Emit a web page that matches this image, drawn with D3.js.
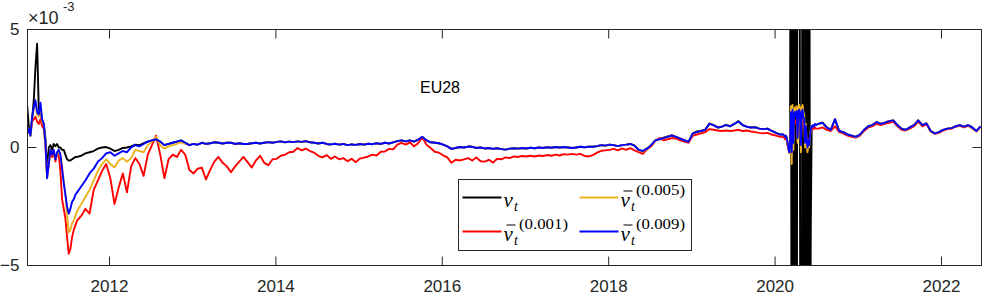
<!DOCTYPE html>
<html>
<head>
<meta charset="utf-8">
<script src="https://cdn.jsdelivr.net/npm/d3@7"></script>
<style>
  body { margin: 0; background: #ffffff; }
  svg { display: block; }
</style>
</head>
<body>
<svg id="chart" width="1000" height="300"></svg>
<script>
// ---------- DATA (values in units of 1e-3) ----------
// time grid (decimal years): denser at the 2011 start and around the 2020 turbulence
const dates = [
  ...d3.range(30).map(i => 2011.01 + 0.02 * i),
  ...d3.range(170).map(i => 2011.61 + 0.05 * i),
  ...d3.range(40).map(i => 2020.10 + 0.01 * i),
  ...d3.range(40).map(i => 2020.52 + 0.05 * i)
];

const xTickLabels = [2012, 2014, 2016, 2018, 2020, 2022];
const yTickLabels = [-5, 0, 5];
const titleText = "EU28";

// nu_t (black)
const nuT = [
  1.8,0.9,0.7,1.2,2.0,3.4,4.4,1.6,1.6,1.1,
  1.0,0.4,-1.0,0.0,0.1,-0.1,0.15,0.05,0.15,0.0,
  0.0,-0.1,-0.1,-0.3,-0.5,-0.55,-0.55,-0.5,-0.45,-0.4,
  // 2011.61 ...
  -0.4,-0.35,-0.25,-0.2,-0.15,-0.05,0.0,0.02,-0.05,-0.15,
  -0.1,-0.02,0.0,0.05,0.12,0.1,0.18,0.25,0.3,0.35,
  0.25,0.1,0.15,0.2,0.25,0.3,0.2,0.1,0.15,0.12,
  0.2,0.15,0.18,0.22,0.2,0.17,0.2,0.2,0.15,0.18,
  0.15,0.15,0.18,0.2,0.17,0.2,0.23,0.2,0.24,0.26,
  0.22,0.25,0.23,0.26,0.24,0.27,0.22,0.2,0.17,0.2,
  0.15,0.13,0.16,0.12,0.15,0.1,0.13,0.11,0.15,0.12,
  0.16,0.14,0.18,0.15,0.2,0.17,0.22,0.27,0.3,0.26,
  0.3,0.25,0.33,0.45,0.3,0.22,0.2,0.18,0.12,0.05,
  -0.06,-0.02,0.02,0.0,0.04,0.03,-0.02,0.0,-0.04,-0.02,
  -0.06,-0.03,-0.07,-0.09,-0.05,-0.03,-0.05,-0.02,-0.04,-0.01,
  -0.03,0.0,-0.02,0.01,-0.01,0.02,0.0,0.02,0.0,-0.02,
  0.0,0.03,0.01,0.03,0.03,0.06,0.1,0.08,0.12,0.1,
  0.06,0.1,0.12,0.15,0.08,-0.1,-0.15,-0.05,0.1,0.3,
  0.35,0.42,0.47,0.52,0.45,0.38,0.3,0.24,0.6,0.68,
  0.7,0.75,1.02,0.95,0.85,0.88,0.97,0.9,1.0,1.12,
  0.95,0.88,0.85,0.87,0.8,0.78,0.8,0.7,0.62,0.55,
  // 2020.10 ... (dense)
  0.55,0.5,0.45,0.5,0.4,0.2,0.0,-0.2,0.1,20,
  -25,30,-20,25,-30,15,-20,25,30,25,
  -2,-30,-25,30,-20,25,-30,20,-25,22,
  -20,18,-10,-3,0.9,0.85,0.95,0.9,1.0,0.95,
  // 2020.52 ...
  1.0,1.05,0.85,0.75,1.2,0.7,0.65,0.55,0.5,0.45,
  0.55,0.75,0.9,0.95,1.08,1.0,1.05,1.12,1.15,0.95,
  0.8,0.75,0.85,0.95,1.15,0.95,1.02,0.7,0.6,0.65,
  0.75,0.8,0.82,0.9,0.95,0.88,0.95,0.85,0.7,0.9
];

// nu-bar_t^(0.001) (red)
const nuBar001 = [
  0.6,0.7,0.5,1.1,1.2,1.3,1.1,1.0,1.2,0.9,
  0.8,0.1,-1.2,-0.7,-0.2,-0.4,-0.2,-0.6,-0.3,-0.3,
  -1.0,-2.2,-2.6,-3.0,-3.8,-4.5,-4.3,-3.8,-3.5,-3.3,
  -3.1,-2.9,-2.6,-2.8,-1.8,-1.4,-1.0,-0.7,-1.3,-2.4,
  -1.7,-1.1,-1.9,-0.8,-0.45,-0.7,-1.2,-0.3,0.1,0.5,
  -0.3,-1.3,-0.5,-0.3,-0.4,-0.1,-0.3,-0.95,-1.1,-0.9,
  -0.85,-1.35,-0.95,-0.6,-0.4,-0.65,-0.8,-1.05,-0.8,-0.6,
  -0.4,-0.62,-0.85,-0.55,-0.35,-0.65,-0.75,-0.5,-0.48,-0.35,
  -0.3,-0.2,-0.18,-0.02,-0.12,-0.05,-0.15,-0.22,-0.35,-0.42,
  -0.32,-0.48,-0.38,-0.5,-0.45,-0.58,-0.48,-0.62,-0.47,-0.43,
  -0.38,-0.3,-0.34,-0.18,-0.17,-0.06,-0.08,0.12,0.2,0.12,
  0.22,0.05,0.18,0.43,0.12,-0.02,-0.18,-0.22,-0.33,-0.42,
  -0.65,-0.52,-0.55,-0.5,-0.45,-0.55,-0.42,-0.58,-0.6,-0.52,
  -0.64,-0.48,-0.5,-0.42,-0.45,-0.38,-0.4,-0.36,-0.38,-0.35,
  -0.38,-0.34,-0.36,-0.32,-0.35,-0.3,-0.34,-0.28,-0.3,-0.27,
  -0.3,-0.27,-0.36,-0.38,-0.32,-0.22,-0.14,-0.12,-0.1,-0.06,
  -0.12,-0.04,-0.1,-0.03,-0.12,-0.2,-0.27,-0.08,0.05,0.28,
  0.4,0.3,0.35,0.4,0.38,0.3,0.25,0.2,0.5,0.55,
  0.6,0.65,0.78,0.75,0.72,0.7,0.72,0.7,0.72,0.75,
  0.7,0.72,0.68,0.65,0.62,0.6,0.62,0.55,0.5,0.45,
  0.45,0.4,0.35,0.4,0.3,0.1,-0.1,-0.15,0.1,1.1,
  0.1,1.2,0.3,1.1,1.15,1.0,1.2,0.5,1.15,1.2,
  1.1,0.3,1.1,1.2,1.0,0.9,0.3,0.7,0.35,0.1,
  0.35,0.2,0.5,0.7,0.8,0.75,0.85,0.8,0.85,0.8,
  0.8,0.85,0.75,0.7,0.9,0.65,0.6,0.5,0.45,0.42,
  0.5,0.7,0.85,0.9,1.0,0.95,1.0,1.05,1.1,0.9,
  0.75,0.72,0.8,0.9,1.1,0.9,0.98,0.68,0.58,0.62,
  0.72,0.78,0.8,0.88,0.92,0.85,0.92,0.82,0.68,0.88
];

// nu-bar_t^(0.005) (yellow)
const nuBar005 = [
  0.6,0.8,0.5,1.3,1.6,1.9,1.4,1.3,1.8,1.1,
  0.95,0.15,-1.3,-0.7,-0.1,-0.3,-0.15,-0.5,-0.25,-0.15,
  -0.4,-0.8,-1.4,-2.0,-2.9,-3.6,-3.5,-3.2,-3.1,-2.9,
  -2.7,-2.4,-2.1,-1.8,-1.4,-1.0,-0.7,-0.5,-0.7,-0.85,
  -0.55,-0.45,-0.6,-0.45,-0.1,-0.15,-0.2,0.1,0.25,0.45,
  0.1,-0.05,0.05,0.1,0.15,0.22,0.15,0.1,0.15,0.12,
  0.2,0.15,0.18,0.22,0.2,0.17,0.2,0.2,0.15,0.18,
  0.15,0.15,0.18,0.2,0.17,0.2,0.23,0.2,0.24,0.26,
  0.22,0.25,0.23,0.26,0.24,0.27,0.22,0.2,0.17,0.2,
  0.15,0.13,0.16,0.12,0.15,0.1,0.13,0.11,0.15,0.12,
  0.16,0.14,0.18,0.15,0.2,0.17,0.22,0.27,0.3,0.26,
  0.3,0.25,0.33,0.45,0.3,0.22,0.2,0.18,0.12,0.05,
  -0.06,-0.02,0.02,0.0,0.04,0.03,-0.02,0.0,-0.04,-0.02,
  -0.06,-0.03,-0.07,-0.09,-0.05,-0.03,-0.05,-0.02,-0.04,-0.01,
  -0.03,0.0,-0.02,0.01,-0.01,0.02,0.0,0.02,0.0,-0.02,
  0.0,0.03,0.01,0.03,0.03,0.06,0.1,0.08,0.12,0.1,
  0.06,0.1,0.12,0.15,0.08,-0.12,-0.17,-0.05,0.1,0.3,
  0.35,0.4,0.45,0.5,0.45,0.38,0.3,0.24,0.6,0.65,
  0.7,0.75,1.0,0.95,0.85,0.88,0.95,0.9,1.0,1.1,
  0.95,0.88,0.85,0.85,0.8,0.78,0.8,0.7,0.62,0.55,
  0.55,0.5,0.45,0.5,0.4,0.2,0.0,-0.25,0.1,1.75,
  -0.7,1.8,-0.1,1.6,1.7,1.5,1.75,0.2,1.7,1.8,
  1.6,-0.2,1.7,1.8,1.5,1.4,0.0,1.0,0.1,-0.2,
  0.2,0.0,0.5,0.8,0.9,0.85,0.95,0.9,1.0,0.95,
  1.0,1.05,0.85,0.75,1.2,0.7,0.65,0.55,0.5,0.45,
  0.55,0.75,0.9,0.95,1.08,1.0,1.05,1.12,1.15,0.95,
  0.8,0.75,0.85,0.95,1.15,0.95,1.02,0.7,0.6,0.65,
  0.75,0.8,0.82,0.9,0.95,0.88,0.95,0.85,0.7,0.9
];

// nu-bar_t^(0.009) (blue)
const nuBar009 = [
  0.6,0.8,0.5,1.3,1.7,2.0,1.5,1.4,1.9,1.2,
  1.0,0.2,-1.3,-0.7,-0.1,-0.3,-0.1,-0.5,-0.2,-0.1,
  -0.3,-0.9,-1.5,-2.0,-2.5,-2.8,-2.6,-2.3,-2.2,-2.0,
  -1.9,-1.65,-1.4,-1.1,-0.9,-0.6,-0.45,-0.25,-0.2,-0.35,
  -0.25,-0.15,-0.2,0.0,0.1,0.05,0.15,0.25,0.3,0.35,
  0.25,0.1,0.15,0.2,0.25,0.3,0.2,0.1,0.15,0.12,
  0.2,0.15,0.18,0.22,0.2,0.17,0.2,0.2,0.15,0.18,
  0.15,0.15,0.18,0.2,0.17,0.2,0.23,0.2,0.24,0.26,
  0.22,0.25,0.23,0.26,0.24,0.27,0.22,0.2,0.17,0.2,
  0.15,0.13,0.16,0.12,0.15,0.1,0.13,0.11,0.15,0.12,
  0.16,0.14,0.18,0.15,0.2,0.17,0.22,0.27,0.3,0.26,
  0.3,0.25,0.33,0.45,0.3,0.22,0.2,0.18,0.12,0.05,
  -0.06,-0.02,0.02,0.0,0.04,0.03,-0.02,0.0,-0.04,-0.02,
  -0.06,-0.03,-0.07,-0.09,-0.05,-0.03,-0.05,-0.02,-0.04,-0.01,
  -0.03,0.0,-0.02,0.01,-0.01,0.02,0.0,0.02,0.0,-0.02,
  0.0,0.03,0.01,0.03,0.03,0.06,0.1,0.08,0.12,0.1,
  0.06,0.1,0.12,0.15,0.08,-0.1,-0.15,-0.05,0.1,0.3,
  0.35,0.4,0.45,0.5,0.45,0.38,0.3,0.24,0.6,0.65,
  0.7,0.75,1.0,0.95,0.85,0.88,0.95,0.9,1.0,1.1,
  0.95,0.88,0.85,0.85,0.8,0.78,0.8,0.7,0.62,0.55,
  0.55,0.5,0.45,0.5,0.4,0.2,0.0,-0.2,0.1,1.5,
  -0.2,1.6,0.2,1.4,1.5,1.3,1.55,0.4,1.5,1.6,
  1.4,0.1,1.5,1.6,1.3,1.2,0.2,0.9,0.3,0.0,
  0.3,0.1,0.5,0.8,0.9,0.85,0.95,0.9,1.0,0.95,
  1.0,1.05,0.85,0.75,1.2,0.7,0.65,0.55,0.5,0.45,
  0.55,0.75,0.9,0.95,1.08,1.0,1.05,1.12,1.15,0.95,
  0.8,0.75,0.85,0.95,1.15,0.95,1.02,0.7,0.6,0.65,
  0.75,0.8,0.82,0.9,0.95,0.88,0.95,0.85,0.7,0.9
];

// legend superscripts
const legendSup = [null, "(0.001)", "(0.005)", "(0.009)"];

// ---------- DRAWING ----------
const svg = d3.select("#chart");
const M = { left: 27.5, right: 981.5, top: 29.5, bottom: 265.5 };
const axisColor = "#262626";
const sansFont = "'Liberation Sans', Arial, Helvetica, sans-serif";
const serifFont = "'Liberation Serif', 'Times New Roman', serif";

const x = d3.scaleLinear().domain([2011.0144, 2022.481]).range([M.left, M.right]);
const y = d3.scaleLinear().domain([-5, 5]).range([M.bottom, M.top]);

svg.append("defs").append("clipPath").attr("id", "plotclip")
  .append("rect")
  .attr("x", M.left).attr("y", M.top)
  .attr("width", M.right - M.left).attr("height", M.bottom - M.top);

function styleAxis(g) {
  g.select(".domain").remove();
  g.selectAll(".tick line").attr("stroke", axisColor).attr("stroke-width", 1);
  g.selectAll(".tick text")
    .attr("fill", axisColor)
    .style("font-family", sansFont)
    .style("font-size", "17px");
}

svg.append("g").attr("transform", `translate(0,${M.bottom})`)
  .call(d3.axisBottom(x).tickValues(xTickLabels).tickFormat(d3.format("d"))
    .tickSize(-9).tickPadding(14).offset(0))
  .call(styleAxis);
svg.append("g").attr("transform", `translate(0,${M.top})`)
  .call(d3.axisTop(x).tickValues(xTickLabels).tickFormat("").tickSize(-9).offset(0))
  .call(styleAxis);
svg.append("g").attr("transform", `translate(${M.left},0)`)
  .call(d3.axisLeft(y).tickValues(yTickLabels).tickFormat(d3.format("d"))
    .tickSize(-9).tickPadding(8).offset(0))
  .call(styleAxis);
svg.append("g").attr("transform", `translate(${M.right},0)`)
  .call(d3.axisRight(y).tickValues(yTickLabels).tickFormat("").tickSize(-9).offset(0))
  .call(styleAxis);

const seriesList = [
  { values: nuT, color: "#000000" },
  { values: nuBar001, color: "#FF0000" },
  { values: nuBar005, color: "#EDB120" },
  { values: nuBar009, color: "#0000FF" }
];

const plot = svg.append("g").attr("clip-path", "url(#plotclip)");
seriesList.forEach(s => {
  const n = Math.min(s.values.length, dates.length);
  const pts = d3.range(n).map(i => [dates[i], s.values[i]]);
  plot.append("path")
    .datum(pts)
    .attr("fill", "none")
    .attr("stroke", s.color)
    .attr("stroke-width", 1.9)
    .attr("stroke-linejoin", "round")
    .attr("d", d3.line().x(d => x(d[0])).y(d => y(d[1])));
});

svg.append("rect")
  .attr("x", M.left).attr("y", M.top)
  .attr("width", M.right - M.left).attr("height", M.bottom - M.top)
  .attr("fill", "none").attr("stroke", axisColor).attr("stroke-width", 1);

const expo = svg.append("text")
  .attr("x", 28).attr("y", 24)
  .attr("fill", axisColor)
  .style("font-family", sansFont).style("font-size", "18px");
expo.append("tspan").text("\u00D710");
expo.append("tspan").attr("x", 63).attr("y", 11).style("font-size", "13px").text("-3");

svg.append("text")
  .attr("x", 440).attr("y", 93)
  .attr("text-anchor", "middle")
  .attr("fill", "#000")
  .style("font-family", sansFont).style("font-size", "16px")
  .text(titleText);

// legend
const lg = svg.append("g");
lg.append("rect")
  .attr("x", 458.5).attr("y", 179.5).attr("width", 233).attr("height", 71)
  .attr("fill", "#fff").attr("stroke", axisColor).attr("stroke-width", 1);

const colX = [462.5, 579.5];
const rowY = [197.5, 231.5];
const legendPos = [[0, 0], [0, 1], [1, 0], [1, 1]];

seriesList.forEach((s, k) => {
  const [c, r] = legendPos[k];
  const lx = colX[c], ly = rowY[r];
  lg.append("line")
    .attr("x1", lx).attr("x2", lx + 39).attr("y1", ly).attr("y2", ly)
    .attr("stroke", s.color).attr("stroke-width", 1.9);
  const tx = lx + 41;
  lg.append("text")
    .attr("x", tx).attr("y", ly + 9)
    .attr("fill", "#000")
    .style("font-family", serifFont).style("font-style", "italic").style("font-size", "21px")
    .text("\u03BD");
  lg.append("text")
    .attr("x", tx + 10.5).attr("y", ly + 13.5)
    .attr("fill", "#000")
    .style("font-family", serifFont).style("font-style", "italic").style("font-size", "14px")
    .text("t");
  if (legendSup[k]) {
    lg.append("line")
      .attr("x1", tx + 3).attr("x2", tx + 12)
      .attr("y1", ly - 6.5).attr("y2", ly - 6.5)
      .attr("stroke", "#000").attr("stroke-width", 1);
    lg.append("text")
      .attr("x", tx + 15.5).attr("y", ly - 3)
      .attr("fill", "#000")
      .attr("textLength", 49).attr("lengthAdjust", "spacingAndGlyphs")
      .style("font-family", serifFont).style("font-size", "14.5px")
      .text(legendSup[k]);
  }
});
</script>
</body>
</html>
